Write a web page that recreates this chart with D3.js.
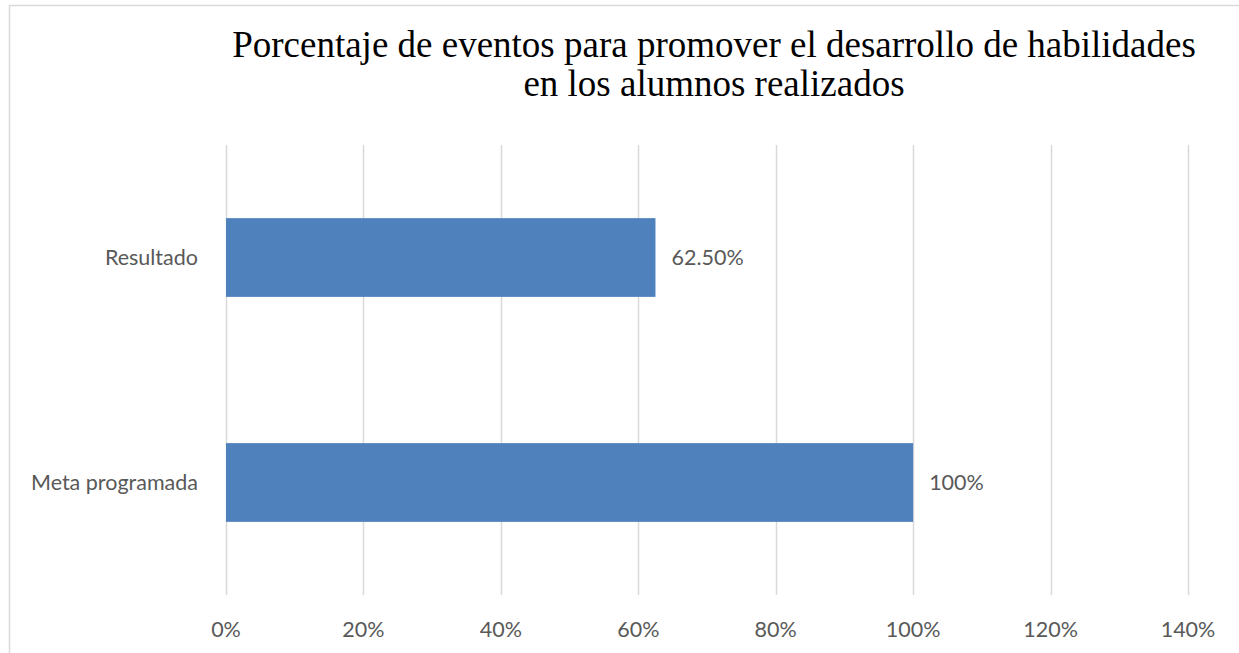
<!DOCTYPE html>
<meta charset="utf-8">
<title>Porcentaje de eventos</title>
<style>
  body { margin: 0; background: #fff; }
  .tick text, .cat text, .lbl { font-family: Lato, "Open Sans", sans-serif; font-size: 21.5px; fill: #595959; }
  .title { font-family: "Liberation Serif", "Times New Roman", serif; font-size: 37px; fill: #000; }
</style>
<body>
<svg width="1239" height="653"></svg>
<script src="https://d3js.org/d3.v7.min.js"></script>
<script>
  // data
  var categories = ["Resultado", "Meta programada"];
  var values = [0.625, 1.0];
  var valueLabels = ["62.50%", "100%"];
  var ticks = [0, 0.2, 0.4, 0.6, 0.8, 1.0, 1.2, 1.4];
  var titleLines = ["Porcentaje de eventos para promover el desarrollo de habilidades", "en los alumnos realizados"];

  var svg = d3.select("svg");

  // chart border (runs off the right / bottom edge)
  svg.append("rect")
    .attr("x", 9.5).attr("y", 5.5)
    .attr("width", 1260).attr("height", 700)
    .attr("fill", "none")
    .attr("stroke", "#d9d9d9")
    .attr("stroke-width", 1.5);

  var x = d3.scaleLinear().domain([0, 1.4]).range([226, 1188]);
  var y = d3.scaleBand().domain(categories).range([145, 595])
    .paddingInner(0.65).paddingOuter(0.325);

  // gridlines
  svg.append("g").selectAll("line")
    .data(ticks)
    .enter().append("line")
    .attr("x1", d => Math.round(x(d)) + 0.5)
    .attr("x2", d => Math.round(x(d)) + 0.5)
    .attr("y1", 145).attr("y2", 595)
    .attr("stroke", "#d9d9d9")
    .attr("stroke-width", 1.5);

  // x tick labels
  svg.append("g").attr("class", "tick").selectAll("text")
    .data(ticks)
    .enter().append("text")
    .attr("x", d => x(d))
    .attr("y", 637)
    .attr("text-anchor", "middle")
    .text(d => Math.round(d * 100) + "%");

  // bars
  svg.append("g").selectAll("rect")
    .data(categories)
    .enter().append("rect")
    .attr("x", x(0))
    .attr("y", d => y(d))
    .attr("width", (d, i) => x(values[i]) - x(0))
    .attr("height", y.bandwidth())
    .attr("fill", "#4f81bd");

  // category labels
  svg.append("g").attr("class", "cat").selectAll("text")
    .data(categories)
    .enter().append("text")
    .attr("x", 198)
    .attr("y", d => y(d) + y.bandwidth() / 2)
    .attr("dy", "0.35em")
    .attr("text-anchor", "end")
    .text(d => d);

  // value labels
  svg.append("g").selectAll("text")
    .data(categories)
    .enter().append("text")
    .attr("class", "lbl")
    .attr("x", (d, i) => x(values[i]) + 16)
    .attr("y", d => y(d) + y.bandwidth() / 2)
    .attr("dy", "0.35em")
    .text((d, i) => valueLabels[i]);

  // title
  svg.append("g").selectAll("text")
    .data(titleLines)
    .enter().append("text")
    .attr("class", "title")
    .attr("x", 714)
    .attr("y", (d, i) => 57 + i * 39)
    .attr("text-anchor", "middle")
    .text(d => d);
</script>
</body>
